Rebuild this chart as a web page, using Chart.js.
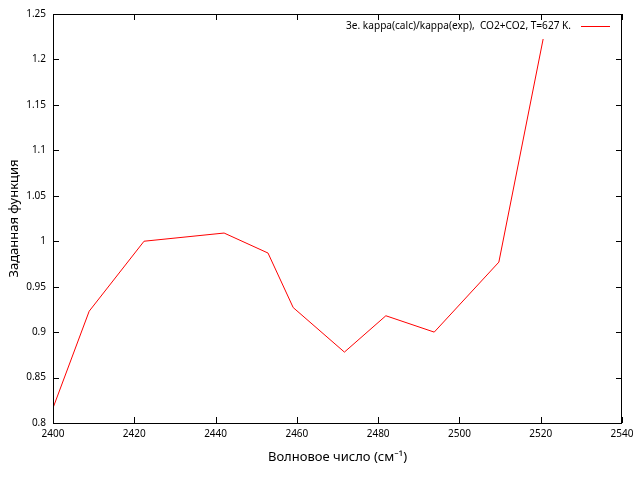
<!DOCTYPE html>
<html>
<head>
<meta charset="utf-8">
<script src="https://cdn.jsdelivr.net/npm/chart.js@4.4.1/dist/chart.umd.min.js"></script>
<style>
  html, body { margin: 0; padding: 0; background: #fff; }
  #wrap { width: 640px; height: 480px; }
</style>
</head>
<body>
<div id="wrap"><canvas id="chart" width="640" height="480"></canvas></div>
<script>
// wavenumber (cm-1) and ratio values
const waveNumbers = [2400, 2408.9, 2422.4, 2442.1, 2452.9, 2459.1, 2471.7, 2481.9, 2493.8, 2509.7, 2520.6];
const ratioValues = [0.8165, 0.923, 1.0, 1.009, 0.987, 0.927, 0.878, 0.918, 0.9, 0.977, 1.2225];
const xTicks = [2400, 2420, 2440, 2460, 2480, 2500, 2520, 2540];
const yTicks = [0.8, 0.85, 0.9, 0.95, 1, 1.05, 1.1, 1.15, 1.2, 1.25];
const seriesLabel = '3e. kappa(calc)/kappa(exp),  CO2+CO2, T=627 K.';

const FONT = '"Noto Sans", "DejaVu Sans", sans-serif';

// gnuplot-ish frame: box around the plot, ticks pointing inward on all four sides, legend top right
const framePlugin = {
    id: 'frame',
    afterDatasetsDraw(chart) {
        const ctx = chart.ctx;
        const a = chart.chartArea;
        const xs = chart.scales.x, ys = chart.scales.y;
        const tl = 6;
        ctx.save();
        ctx.strokeStyle = '#000';
        ctx.lineWidth = 1;
        ctx.beginPath();
        xTicks.forEach(v => {
            const px = Math.round(xs.getPixelForValue(v)) + 0.5;
            ctx.moveTo(px, a.bottom); ctx.lineTo(px, a.bottom - tl);
            ctx.moveTo(px, a.top); ctx.lineTo(px, a.top + tl);
        });
        yTicks.forEach(v => {
            const py = Math.round(ys.getPixelForValue(v)) + 0.5;
            ctx.moveTo(a.left, py); ctx.lineTo(a.left + tl, py);
            ctx.moveTo(a.right, py); ctx.lineTo(a.right - tl, py);
        });
        ctx.stroke();
        ctx.strokeRect(Math.round(a.left) + 0.5, Math.round(a.top) + 0.5,
            Math.round(a.right - a.left) - 1, Math.round(a.bottom - a.top));

        // legend
        const ds = chart.data.datasets[0];
        const ly = a.top + 12;
        ctx.font = '10.1px ' + FONT;
        ctx.fillStyle = '#000';
        ctx.textAlign = 'right';
        ctx.textBaseline = 'middle';
        ctx.fillText(ds.label, 571, ly);
        ctx.strokeStyle = ds.borderColor;
        ctx.beginPath();
        ctx.moveTo(581, ly + 0.5);
        ctx.lineTo(610, ly + 0.5);
        ctx.stroke();
        ctx.restore();
    }
};

const ctx = document.getElementById('chart').getContext('2d');
const chart = new Chart(ctx, {
    type: 'line',
    data: {
        datasets: [{
            label: seriesLabel,
            data: waveNumbers.map((w, i) => ({ x: w, y: ratioValues[i] })),
            borderColor: '#ff0000',
            borderWidth: 1,
            pointRadius: 0,
            tension: 0,
            fill: false
        }]
    },
    options: {
        responsive: false,
        animation: false,
        layout: { padding: { top: 14, right: 18, left: 0, bottom: 0 } },
        plugins: {
            legend: { display: false },
            tooltip: { enabled: false }
        },
        scales: {
            x: {
                type: 'linear',
                min: 2400,
                max: 2540,
                afterFit: s => { s.height = 57; },
                afterBuildTicks: s => { s.ticks = xTicks.map(v => ({ value: v })); },
                grid: { display: false, drawTicks: false },
                border: { display: false },
                ticks: {
                    color: '#000',
                    padding: 5,
                    maxRotation: 0,
                    font: { family: FONT, size: 10 },
                    callback: v => String(v)
                },
                title: {
                    display: true,
                    text: 'Волновое число (см⁻¹)',
                    color: '#000',
                    font: { family: FONT, size: 13 },
                    padding: { top: 0, bottom: 15 }
                }
            },
            y: {
                type: 'linear',
                min: 0.8,
                max: 1.25,
                afterFit: s => { s.width = 53; },
                afterBuildTicks: s => { s.ticks = yTicks.map(v => ({ value: v })); },
                grid: { display: false, drawTicks: false },
                border: { display: false },
                ticks: {
                    color: '#000',
                    padding: 7,
                    font: { family: FONT, size: 10 },
                    callback: v => String(parseFloat(v.toFixed(2)))
                },
                title: {
                    display: true,
                    text: 'Заданная функция',
                    color: '#000',
                    font: { family: FONT, size: 13 },
                    padding: { top: 6, bottom: 0 }
                }
            }
        }
    },
    plugins: [framePlugin]
});
</script>
</body>
</html>
